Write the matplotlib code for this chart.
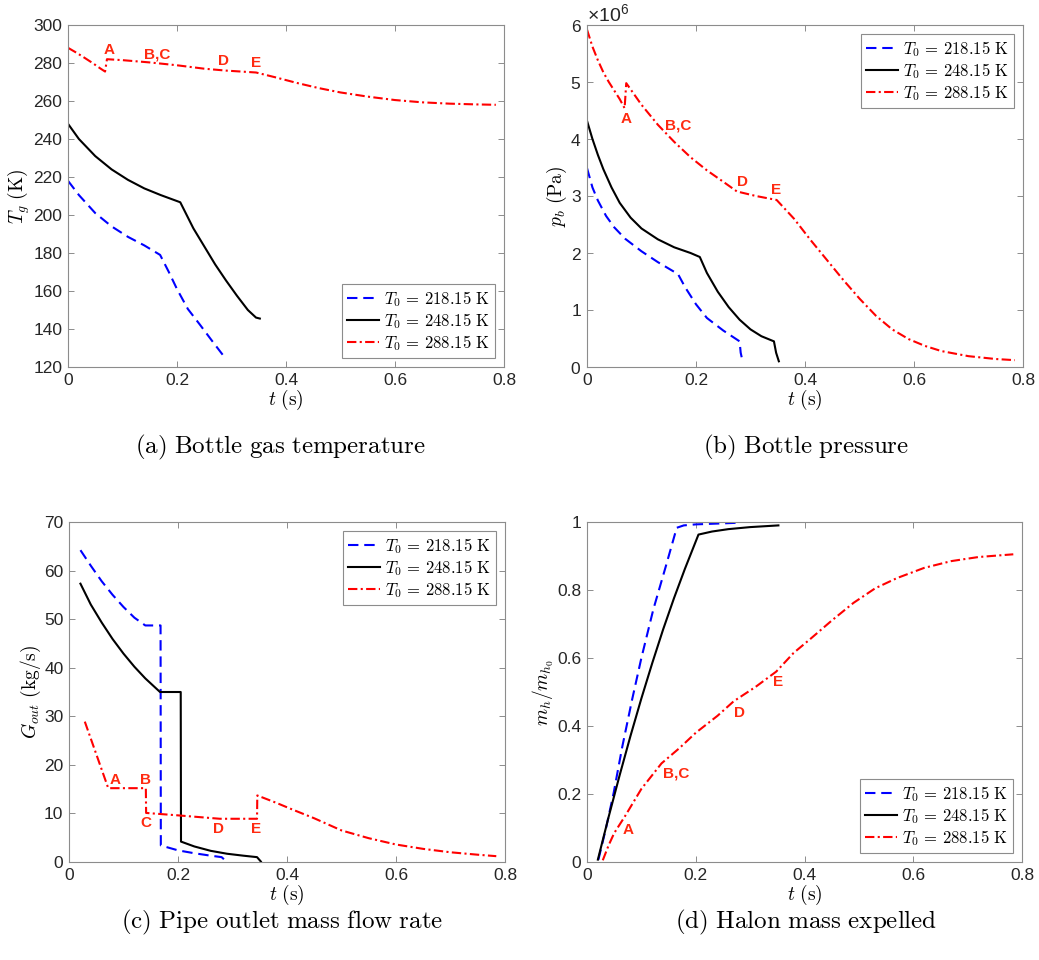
import matplotlib
matplotlib.use('Agg')
import matplotlib.pyplot as plt
from matplotlib.ticker import FuncFormatter, ScalarFormatter
import numpy as np

plt.rcParams['font.family'] = 'Liberation Sans'
plt.rcParams['mathtext.fontset'] = 'cm'
plt.rcParams['mathtext.rm'] = 'Liberation Sans'
plt.rcParams['mathtext.it'] = 'Liberation Sans:italic'
plt.rcParams['mathtext.bf'] = 'Liberation Sans:bold'

# ---- data ----
cases = [r'$T_0\,=\,218.15\ \mathrm{K}$', r'$T_0\,=\,248.15\ \mathrm{K}$', r'$T_0\,=\,288.15\ \mathrm{K}$']

# (a) bottle gas temperature (K)
ta_218 = [0, 0.02, 0.05, 0.08, 0.11, 0.14, 0.169, 0.185, 0.2, 0.22, 0.242, 0.265, 0.285]
Ta_218 = [218, 210.5, 201, 194, 188.5, 184, 179, 170, 161, 150.5, 142.3, 133.5, 126]
ta_248 = [0, 0.02, 0.05, 0.08, 0.11, 0.14, 0.17, 0.206, 0.23, 0.25, 0.27, 0.29, 0.31, 0.33, 0.345, 0.352]
Ta_248 = [248, 240, 231, 224, 218.5, 214, 210.5, 206.7, 193, 183.5, 174, 165.5, 157.5, 150, 146, 145.5]
ta_288 = [0, 0.015, 0.03, 0.045, 0.06, 0.068, 0.0715, 0.1, 0.15, 0.2, 0.25, 0.29, 0.345,
          0.38, 0.42, 0.46, 0.5, 0.55, 0.6, 0.65, 0.7, 0.75, 0.785]
Ta_288 = [288, 285.5, 282.8, 280, 277, 275.5, 282, 281.5, 280.3, 278.8, 277, 276, 275,
          272.5, 269.5, 266.8, 264.5, 262.3, 260.5, 259.3, 258.6, 258.2, 258]

# (b) bottle pressure (MPa, scaled to Pa when plotted)
tb_218 = [0, 0.01, 0.02, 0.035, 0.05, 0.07, 0.1, 0.13, 0.167, 0.18, 0.2, 0.22, 0.25, 0.28, 0.282, 0.285]
pb_218 = [3.49, 3.15, 2.92, 2.65, 2.45, 2.25, 2.03, 1.84, 1.63, 1.4, 1.1, 0.86, 0.64, 0.45, 0.25, 0.12]
tb_248 = [0, 0.01, 0.02, 0.03, 0.045, 0.06, 0.08, 0.1, 0.13, 0.16, 0.19, 0.207, 0.22, 0.24,
          0.26, 0.28, 0.3, 0.32, 0.343, 0.347, 0.352]
pb_248 = [4.32, 4.0, 3.72, 3.47, 3.15, 2.88, 2.62, 2.43, 2.24, 2.1, 2.0, 1.93, 1.65, 1.32,
          1.05, 0.83, 0.66, 0.54, 0.45, 0.25, 0.1]
tb_288 = [0, 0.01, 0.02, 0.03, 0.04, 0.05, 0.06, 0.069, 0.072, 0.1, 0.13, 0.16, 0.19, 0.22, 0.25,
          0.275, 0.31, 0.348, 0.38, 0.41, 0.44, 0.47, 0.5, 0.53, 0.56, 0.59, 0.62, 0.65, 0.7, 0.75, 0.785]
pb_288 = [5.92, 5.62, 5.38, 5.17, 5.0, 4.85, 4.7, 4.54, 4.98, 4.6, 4.25, 3.95, 3.68, 3.45, 3.25,
          3.08, 3.0, 2.93, 2.6, 2.23, 1.88, 1.53, 1.2, 0.9, 0.66, 0.49, 0.37, 0.28, 0.19, 0.14, 0.12]

# (c) pipe outlet mass flow rate (kg/s)
tc_218 = [0.021, 0.04, 0.06, 0.08, 0.1, 0.12, 0.14, 0.168, 0.1685, 0.2, 0.23, 0.26, 0.28, 0.286]
Gc_218 = [64.2, 61, 57.8, 55, 52.5, 50.3, 48.7, 48.7, 3.4, 2.4, 1.8, 1.3, 1.0, 0.4]
tc_248 = [0.021, 0.04, 0.06, 0.08, 0.1, 0.12, 0.14, 0.167, 0.205, 0.2055, 0.23, 0.26, 0.29, 0.32, 0.345, 0.352]
Gc_248 = [57.3, 53, 49.3, 45.9, 42.9, 40.2, 37.8, 35, 35, 4.2, 3.2, 2.3, 1.7, 1.3, 1.0, 0.1]
tc_288 = [0.029, 0.072, 0.141, 0.1415, 0.2, 0.277, 0.345, 0.3455, 0.38, 0.41, 0.45,
          0.5, 0.55, 0.6, 0.65, 0.7, 0.75, 0.784]
Gc_288 = [28.9, 15.2, 15.2, 10.1, 9.6, 8.9, 8.9, 13.7, 12.2, 10.8, 9.0,
          6.5, 4.9, 3.6, 2.7, 2.0, 1.5, 1.2]

# (d) halon mass expelled (-)
td_218 = [0.021, 0.035, 0.049, 0.065, 0.083, 0.1, 0.122, 0.145, 0.165, 0.178, 0.2, 0.25, 0.282]
md_218 = [0.007, 0.1, 0.203, 0.34, 0.478, 0.6, 0.743, 0.87, 0.983, 0.99, 0.993, 0.996, 0.998]
td_248 = [0.02, 0.04, 0.06, 0.08, 0.1, 0.12, 0.14, 0.16, 0.18, 0.205, 0.23, 0.26, 0.3, 0.352]
md_248 = [0.007, 0.134, 0.255, 0.371, 0.481, 0.585, 0.684, 0.776, 0.862, 0.963, 0.972, 0.979, 0.985, 0.99]
td_288 = [0.029, 0.04, 0.05, 0.06, 0.07, 0.1, 0.137, 0.17, 0.2, 0.24, 0.27, 0.31, 0.348, 0.38,
          0.41, 0.45, 0.49, 0.53, 0.57, 0.62, 0.67, 0.72, 0.784]
md_288 = [0.005, 0.05, 0.085, 0.11, 0.135, 0.215, 0.29, 0.335, 0.38, 0.43, 0.473, 0.515, 0.56, 0.615,
          0.655, 0.71, 0.762, 0.805, 0.835, 0.865, 0.885, 0.897, 0.905]

# point labels on the 288.15 K curve: (text, t, y)
labels_a = [('A', 0.075, 286.9), ('B,C', 0.163, 284.6), ('D', 0.286, 281), ('E', 0.345, 279.8)]
labels_b = [('A', 0.072, 4.35e6), ('B,C', 0.168, 4.23e6), ('D', 0.285, 3.24e6), ('E', 0.346, 3.1e6)]
labels_c = [('A', 0.084, 16.9), ('B', 0.141, 16.9), ('C', 0.141, 8.0), ('D', 0.274, 6.85), ('E', 0.344, 6.85)]
labels_d = [('A', 0.075, 0.095), ('B,C', 0.164, 0.26), ('D', 0.281, 0.439), ('E', 0.352, 0.529)]

styles = [dict(color='#0000ff', linestyle=(0, (5, 2.8))),
          dict(color='black', linestyle='-'),
          dict(color='#ff0000', linestyle=(0, (4.5, 1.6, 1, 1.6)))]
spine_gray = '#8c8c8c'
txt_dark = '#262626'
lab_red = '#ff2a10'

fig = plt.figure(figsize=(10.39, 9.6), dpi=100)
W, H = 1039.0, 960.0
ax_a = fig.add_axes([68 / W, 1 - 367 / H, 436 / W, 342 / H])
ax_b = fig.add_axes([587 / W, 1 - 367 / H, 436 / W, 342 / H])
ax_c = fig.add_axes([69 / W, 1 - 862 / H, 436 / W, 340 / H])
ax_d = fig.add_axes([587 / W, 1 - 862 / H, 435 / W, 340 / H])

fmt = FuncFormatter(lambda v, p: '%g' % round(v, 6))


def style_axes(ax, ylim, yticks, ylabel):
  ax.set_xlim(0, 0.8)
  ax.set_ylim(*ylim)
  ax.set_xticks(np.arange(0, 0.81, 0.2))
  ax.set_yticks(yticks)
  ax.xaxis.set_major_formatter(fmt)
  ax.tick_params(direction='in', top=True, right=True, length=4, width=0.7,
                 color=spine_gray, labelsize=12.5, labelcolor=txt_dark, pad=4)
  for s in ax.spines.values():
    s.set_color(spine_gray)
    s.set_linewidth(0.8)
  ax.set_xlabel(r'$t\ \mathrm{(s)}$', fontsize=14, labelpad=0.5)
  ax.set_ylabel(ylabel, fontsize=14, labelpad=1)


def draw(ax, series, labels, legend_loc):
  for (t, y), lab, st in zip(series, cases, styles):
    ax.plot(t, y, linewidth=1.5, label=lab, **st)
  for txt, x, y in labels:
    ax.text(x, y, txt, color=lab_red, fontsize=11, fontweight='bold', ha='center', va='center')
  leg = ax.legend(loc=legend_loc, fontsize=12, handlelength=1.9, handletextpad=0.3,
                  labelspacing=0.12, borderpad=0.3, borderaxespad=0.55, fancybox=False,
                  framealpha=1, edgecolor=spine_gray)
  leg.get_frame().set_linewidth(0.8)


draw(ax_a, [(ta_218, Ta_218), (ta_248, Ta_248), (ta_288, Ta_288)], labels_a, 'lower right')
style_axes(ax_a, (120, 300), np.arange(120, 301, 20), r'$T_g\ \mathrm{(K)}$')
ax_a.yaxis.set_major_formatter(fmt)

draw(ax_b, [(tb_218, np.array(pb_218) * 1e6), (tb_248, np.array(pb_248) * 1e6),
            (tb_288, np.array(pb_288) * 1e6)], labels_b, 'upper right')
style_axes(ax_b, (0, 6e6), np.arange(0, 6.1e6, 1e6), r'$p_b\ \mathrm{(Pa)}$')
sf = ScalarFormatter(useMathText=True)
sf.set_powerlimits((-3, 3))
ax_b.yaxis.set_major_formatter(sf)
off = ax_b.yaxis.get_offset_text()
off.set_fontsize(14)
off.set_color(txt_dark)
off.set_math_fontfamily('custom')

draw(ax_c, [(tc_218, Gc_218), (tc_248, Gc_248), (tc_288, Gc_288)], labels_c, 'upper right')
style_axes(ax_c, (0, 70), np.arange(0, 71, 10), r'$G_{out}\ \mathrm{(kg/s)}$')
ax_c.yaxis.set_major_formatter(fmt)

draw(ax_d, [(td_218, md_218), (td_248, md_248), (td_288, md_288)], labels_d, 'lower right')
style_axes(ax_d, (0, 1), np.arange(0, 1.01, 0.2), r'$m_h/m_{h_0}$')
ax_d.yaxis.set_major_formatter(fmt)

captions = [(280, 447, r'$\mathrm{(a)\ Bottle\ gas\ temperature}$'),
            (806, 447, r'$\mathrm{(b)\ Bottle\ pressure}$'),
            (282, 922, r'$\mathrm{(c)\ Pipe\ outlet\ mass\ flow\ rate}$'),
            (806, 922, r'$\mathrm{(d)\ Halon\ mass\ expelled}$')]
for x, y, s in captions:
  fig.text(x / W, 1 - y / H, s, fontsize=18, ha='center', va='center', color='black')

fig.savefig('out.png', dpi=100)
plt.close(fig)
